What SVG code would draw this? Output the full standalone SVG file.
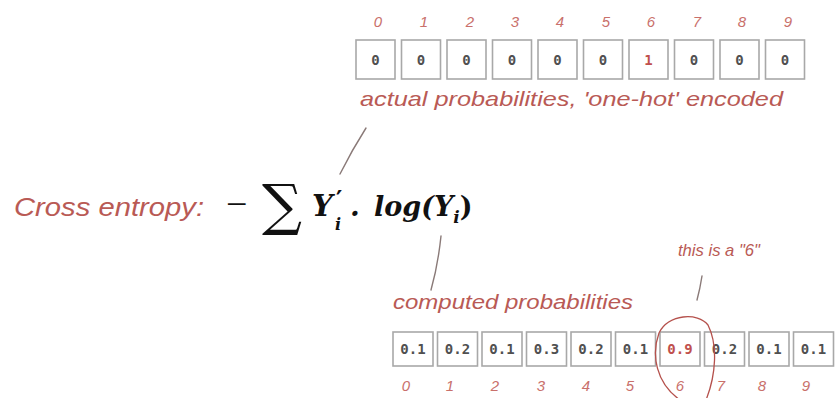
<svg xmlns="http://www.w3.org/2000/svg" width="835" height="398" viewBox="0 0 835 398">
<style>
.bg{fill:#ffffff}
.box{fill:#ffffff;stroke:#a8a8a8;stroke-width:1.6}
.val{font-family:"DejaVu Sans Mono",monospace;font-weight:bold;font-size:14px;fill:#505050;text-anchor:middle}
.hot{fill:#c0504d}
.hand{font-family:"Liberation Sans",sans-serif;font-style:italic;fill:#b95a55}
.idx{font-family:"Liberation Sans",sans-serif;font-style:italic;font-size:15px;fill:#c9706b;text-anchor:middle}
.math{font-family:"DejaVu Serif",serif;font-weight:bold;font-style:italic;fill:#111}
.stroke{fill:none;stroke:#8a7a78;stroke-width:1.4;stroke-linecap:round}
.circ{fill:none;stroke:#b5514c;stroke-width:1.3;stroke-linecap:round}
</style>
<rect class="bg" x="0" y="0" width="835" height="398"/>

<g id="onehot">
  <g id="top-indices">
    <text class="idx" x="378" y="27">0</text>
    <text class="idx" x="424" y="27">1</text>
    <text class="idx" x="470" y="27">2</text>
    <text class="idx" x="515" y="27">3</text>
    <text class="idx" x="560" y="27">4</text>
    <text class="idx" x="606" y="27">5</text>
    <text class="idx" x="651" y="27">6</text>
    <text class="idx" x="697" y="27">7</text>
    <text class="idx" x="742" y="27">8</text>
    <text class="idx" x="788" y="27">9</text>
  </g>
  <g id="top-0"><rect class="box" x="356" y="40" width="39" height="39"/><text class="val" x="375.5" y="65">0</text></g>
  <g id="top-1"><rect class="box" x="401.5" y="40" width="39" height="39"/><text class="val" x="421" y="65">0</text></g>
  <g id="top-2"><rect class="box" x="447" y="40" width="39" height="39"/><text class="val" x="466.5" y="65">0</text></g>
  <g id="top-3"><rect class="box" x="492.5" y="40" width="39" height="39"/><text class="val" x="512" y="65">0</text></g>
  <g id="top-4"><rect class="box" x="538" y="40" width="39" height="39"/><text class="val" x="557.5" y="65">0</text></g>
  <g id="top-5"><rect class="box" x="583.5" y="40" width="39" height="39"/><text class="val" x="603" y="65">0</text></g>
  <g id="top-6"><rect class="box" x="629" y="40" width="39" height="39"/><text class="val hot" x="648.5" y="65">1</text></g>
  <g id="top-7"><rect class="box" x="674.5" y="40" width="39" height="39"/><text class="val" x="694" y="65">0</text></g>
  <g id="top-8"><rect class="box" x="720" y="40" width="39" height="39"/><text class="val" x="739.5" y="65">0</text></g>
  <g id="top-9"><rect class="box" x="765.5" y="40" width="39" height="39"/><text class="val" x="785" y="65">0</text></g>
  <text id="label-actual" class="hand" x="360" y="106" font-size="21" textLength="423" lengthAdjust="spacingAndGlyphs">actual probabilities, 'one-hot' encoded</text>
</g>

<g id="formula">
  <text class="hand" x="14" y="216" font-size="25" textLength="190" lengthAdjust="spacingAndGlyphs">Cross entropy:</text>
  <text x="226" y="217" font-family="Liberation Serif,serif" font-size="38" fill="#111">−</text>
  <text x="262" y="224" font-family="DejaVu Serif,serif" font-size="56" fill="#111">∑</text>
  <text class="math" x="312" y="216" font-size="29">Y</text>
  <text x="336" y="208" font-family="DejaVu Serif,serif" font-weight="bold" font-size="24" fill="#111">′</text>
  <text class="math" x="335" y="230" font-size="16">i</text>
  <text class="math" x="350" y="216" font-size="28">.</text>
  <text class="math" x="374" y="216" font-size="27">log(Y<tspan font-size="17" dy="7">i</tspan><tspan font-style="normal" dy="-7">)</tspan></text>
</g>

<g id="computed">
  <text id="label-this" class="hand" x="678" y="256" font-size="17" textLength="82" lengthAdjust="spacingAndGlyphs">this is a "6"</text>
  <text id="label-computed" class="hand" x="393" y="309" font-size="20" textLength="240" lengthAdjust="spacingAndGlyphs">computed probabilities</text>
  <g id="bot-0"><rect class="box" x="393" y="332" width="40" height="34"/><text class="val" x="413" y="354">0.1</text></g>
  <g id="bot-1"><rect class="box" x="437.5" y="332" width="40" height="34"/><text class="val" x="457.5" y="354">0.2</text></g>
  <g id="bot-2"><rect class="box" x="482" y="332" width="40" height="34"/><text class="val" x="502" y="354">0.1</text></g>
  <g id="bot-3"><rect class="box" x="526.5" y="332" width="40" height="34"/><text class="val" x="546.5" y="354">0.3</text></g>
  <g id="bot-4"><rect class="box" x="571" y="332" width="40" height="34"/><text class="val" x="591" y="354">0.2</text></g>
  <g id="bot-5"><rect class="box" x="615.5" y="332" width="40" height="34"/><text class="val" x="635.5" y="354">0.1</text></g>
  <g id="bot-6"><rect class="box" x="660" y="332" width="40" height="34"/><text class="val hot" x="680" y="354">0.9</text></g>
  <g id="bot-7"><rect class="box" x="704.5" y="332" width="40" height="34"/><text class="val" x="724.5" y="354">0.2</text></g>
  <g id="bot-8"><rect class="box" x="749" y="332" width="40" height="34"/><text class="val" x="769" y="354">0.1</text></g>
  <g id="bot-9"><rect class="box" x="793.5" y="332" width="40" height="34"/><text class="val" x="813.5" y="354">0.1</text></g>
  <g id="bot-indices">
    <text class="idx" x="406" y="391">0</text>
    <text class="idx" x="450" y="391">1</text>
    <text class="idx" x="495" y="391">2</text>
    <text class="idx" x="541" y="391">3</text>
    <text class="idx" x="586" y="391">4</text>
    <text class="idx" x="630" y="391">5</text>
    <text class="idx" x="680" y="391">6</text>
    <text class="idx" x="721" y="391">7</text>
    <text class="idx" x="762" y="391">8</text>
    <text class="idx" x="806" y="391">9</text>
  </g>
</g>

<g id="connectors">
  <path class="stroke" d="M366,128 Q352,150 340,174"/>
  <path class="stroke" d="M441,236 Q438,265 431,290"/>
  <path class="stroke" d="M702,276 Q700,289 697,300"/>
  <path class="circ" d="M706,400 C716,375 718,345 708,325 C698,312 668,314 659,333 C651,355 656,383 680,400"/>
</g>
</svg>
